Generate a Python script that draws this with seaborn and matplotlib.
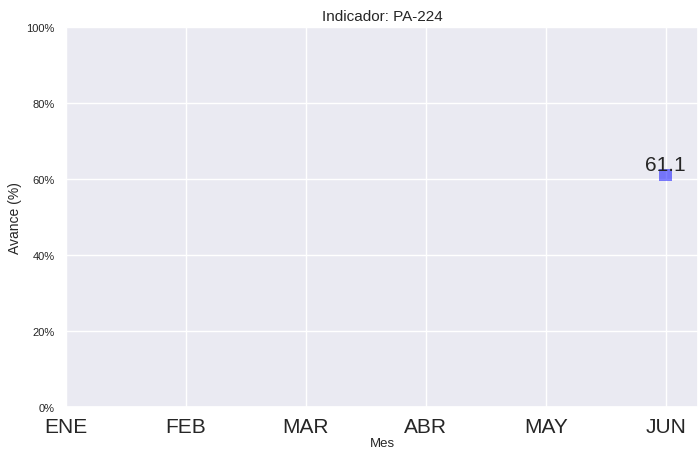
import numpy as np
import pandas as pd
import seaborn as sns
import matplotlib.pyplot as plt
from matplotlib.ticker import FuncFormatter

# datos del indicador
indicador = "PA-224"
meses = ["ENE", "FEB", "MAR", "ABR", "MAY", "JUN"]
avance = [np.nan, np.nan, np.nan, np.nan, np.nan, 61.1]

sns.set_theme(style="darkgrid")
plt.rcParams['font.family'] = ['Liberation Sans', 'DejaVu Sans']

df = pd.DataFrame({"mes": range(len(meses)), "avance": avance})

fig = plt.figure(figsize=(6.98, 4.52), dpi=100)
ax = fig.add_axes([0.0946, 0.0973, 0.9054, 0.8407])

sns.scatterplot(data=df, x="mes", y="avance", marker="s", s=80,
                color="blue", alpha=0.5, edgecolor="none", ax=ax)

for i, v in enumerate(avance):
    if not np.isnan(v):
        ax.text(i, v + 0.3, "%.1f" % v, ha="center", va="bottom", fontsize=15, color="#262626")

ax.set_xticks(range(len(meses)))
ax.set_xticklabels(meses, fontsize=15)
ax.set_xlim(0, 5.27)
ax.set_ylim(0, 100)
ax.set_yticks(np.arange(0, 101, 20))
ax.yaxis.set_major_formatter(FuncFormatter(lambda y, _: "%d%%" % y))
ax.tick_params(axis="y", labelsize=8, pad=2)
ax.tick_params(axis="x", pad=1)
ax.set_xlabel("Mes", fontsize=9.5, labelpad=1)
ax.set_ylabel("Avance (%)", fontsize=10, labelpad=3)
ax.set_title("Indicador: " + indicador, fontsize=11, pad=5)

fig.savefig("out.png", dpi=100)
